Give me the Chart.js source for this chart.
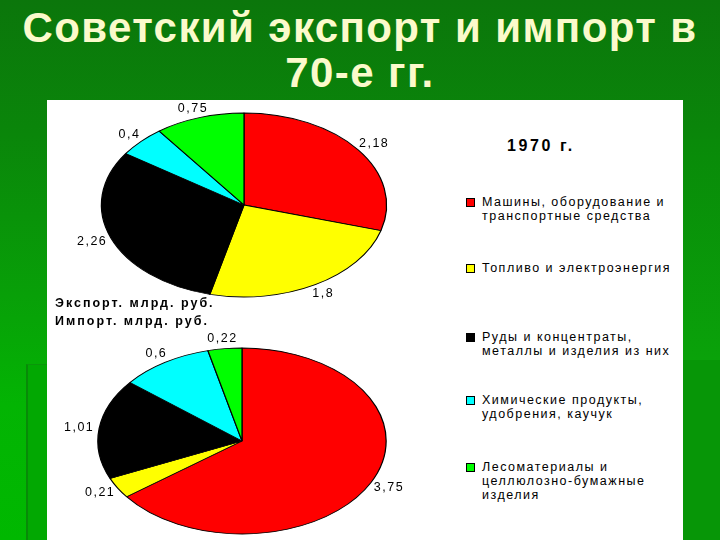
<!DOCTYPE html>
<html>
<head>
<meta charset="utf-8">
<script src="https://cdn.jsdelivr.net/npm/chart.js@4"></script>
<style>
  html, body { margin:0; padding:0; }
  body { width:720px; height:540px; overflow:hidden; position:relative;
    background: linear-gradient(180deg, #0b760b 0%, #0a860a 25%, #08a008 55%, #03b403 75%, #00b800 100%);
    font-family: "Liberation Sans", Arial, sans-serif; }
  #title { position:absolute; left:0; top:5px; width:720px; text-align:center; color:#fbfacb;
    font-weight:bold; font-size:42px; line-height:45px; letter-spacing:1.4px; }
  #decoL { position:absolute; left:26px; top:364px; width:21px; height:176px; background:#02a802;
    border-left:2px solid #088a08; border-top:1px solid #0a960a; }
  #decoR { position:absolute; left:683px; top:360px; width:37px; height:180px; background:#079607; }
  #decoR2 { position:absolute; left:683px; top:140px; width:37px; height:220px;
    background: linear-gradient(180deg, #098a09, #0aa20a); }
  #panel { position:absolute; left:47px; top:100px; width:636px; height:440px; background:#fff; }
  canvas { position:absolute; }
  #cExp { left:40px; top:100px; }
  #cImp { left:40px; top:330px; }
  .cap { position:absolute; left:55px; font-weight:bold; font-size:12.5px; letter-spacing:2px; color:#000; }
  #year { position:absolute; left:507px; top:137px; font-weight:bold; font-size:16px; letter-spacing:2.6px; }
  .leg { position:absolute; left:466px; font-size:12.5px; letter-spacing:1.5px; line-height:14px; color:#000; }
  .leg .sq { position:absolute; left:0; top:3px; width:7px; height:7px; border:1px solid #000; }
  .leg .tx { margin-left:16px; white-space:pre; }
</style>
</head>
<body>
<div id="decoR2"></div>
<div id="decoR"></div>
<div id="decoL"></div>
<div id="title">Советский экспорт и импорт в<br>70-е гг.</div>
<div id="panel"></div>
<canvas id="cExp" width="400" height="210"></canvas>
<canvas id="cImp" width="400" height="210"></canvas>
<div class="cap" style="top:296px">Экспорт. млрд. руб.</div>
<div class="cap" style="top:314px">Импорт. млрд. руб.</div>
<div id="year">1970 г.</div>
<div id="legend"></div>
<script>
const categories = [
  "Машины, оборудование и\nтранспортные средства",
  "Топливо и электроэнергия",
  "Руды и концентраты,\nметаллы и изделия из них",
  "Химические продукты,\nудобрения, каучук",
  "Лесоматериалы и\nцеллюлозно-бумажные\nизделия"
];
const colors = ["#ff0000", "#ffff00", "#000000", "#00ffff", "#00ff00"];
const exportValues = [2.18, 1.8, 2.26, 0.4, 0.75];
const importValues = [3.75, 0.21, 1.01, 0.6, 0.22];
const legendTops = [195, 261, 330, 393, 460];

// legend (HTML)
const legend = document.getElementById('legend');
categories.forEach((c, i) => {
  const d = document.createElement('div');
  d.className = 'leg';
  d.style.top = legendTops[i] + 'px';
  d.innerHTML = '<span class="sq" style="background:' + colors[i] + '"></span><div class="tx"></div>';
  d.querySelector('.tx').textContent = c;
  legend.appendChild(d);
});

const SX = 1.55;
const ellipsePlugin = {
  id: 'ellipse',
  beforeDatasetsDraw(chart) {
    const a = chart.getDatasetMeta(0).data[0];
    const ctx = chart.ctx;
    ctx.save();
    ctx.translate(a.x, a.y);
    ctx.scale(SX, 1);
    ctx.translate(-a.x, -a.y);
  },
  afterDatasetsDraw(chart) { chart.ctx.restore(); }
};
const labelPlugin = {
  id: 'vlabels',
  afterDraw(chart) {
    const ctx = chart.ctx;
    const meta = chart.getDatasetMeta(0);
    const vals = chart.data.datasets[0].data;
    ctx.save();
    ctx.font = '12.5px "Liberation Sans", Arial, sans-serif';
    ctx.letterSpacing = '1.5px';
    ctx.fillStyle = '#000';
    ctx.textAlign = 'center';
    ctx.textBaseline = 'middle';
    meta.data.forEach((arc, i) => {
      const mid = (arc.startAngle + arc.endAngle) / 2;
      const c = Math.cos(mid), s = Math.sin(mid);
      const txt = String(vals[i]).replace('.', ',');
      const w = ctx.measureText(txt).width, h = 10;
      const pad = 5;
      const x = arc.x + c * (arc.outerRadius * SX + pad + w / 2);
      const y = arc.y + s * (arc.outerRadius + pad + h / 2);
      ctx.fillText(txt, x, y);
    });
    ctx.restore();
  }
};

function makePie(id, values, radius, padding) {
  return new Chart(document.getElementById(id), {
    type: 'pie',
    data: { labels: categories, datasets: [{ data: values, backgroundColor: colors,
      borderColor: '#000', borderWidth: 0.8 }] },
    options: {
      responsive: false, animation: false, radius: radius,
      layout: { padding: padding },
      plugins: { legend: { display: false }, tooltip: { enabled: false } }
    },
    plugins: [ellipsePlugin, labelPlugin]
  });
}
makePie('cExp', exportValues, 92, { left: 8, right: 0, top: 10, bottom: 10 });
makePie('cImp', importValues, 93, { left: 4, right: 0, top: 18, bottom: 6 });
</script>
</body>
</html>
